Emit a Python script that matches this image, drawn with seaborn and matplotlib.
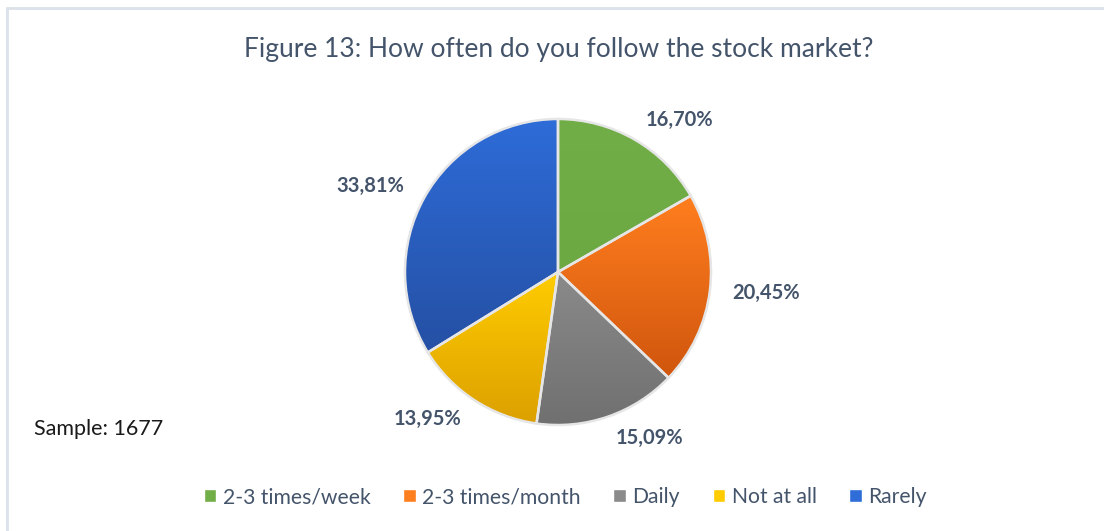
import numpy as np
import matplotlib
matplotlib.use("Agg")
import matplotlib.pyplot as plt
import seaborn as sns
from matplotlib.colors import LinearSegmentedColormap
from matplotlib.patches import Rectangle

categories = ["2-3 times/week", "2-3 times/month", "Daily", "Not at all", "Rarely"]
shares = [16.70, 20.45, 15.09, 13.95, 33.81]
sample_size = 1677

# gradient colours per slice (top, bottom)
top_colors = ["#72AE48", "#FF7E1E", "#8A8A8A", "#FFCC00", "#2E6CD8"]
bottom_colors = ["#6DA943", "#D0560E", "#707070", "#DCA000", "#2550A4"]

sns.set_theme(style="white")
plt.rcParams["font.family"] = ["Lato", "DejaVu Sans"]

fig = plt.figure(figsize=(11.04, 5.31), dpi=100)
ax = fig.add_axes([0, 0, 1, 1])

# percentage labels in the report's decimal-comma style
pct_labels = [f"{v:.2f}%".replace(".", ",") for v in shares]
cx, cy = 558, 259

wedges, texts = ax.pie(
    shares,
    labels=pct_labels,
    colors=bottom_colors,
    startangle=90,
    counterclock=False,
    center=(cx, cy),
    radius=153,
    explode=[0.02] * len(shares),
    labeldistance=1.15,
    wedgeprops=dict(edgecolor="#E6E6E6", linewidth=1.8),
    textprops=dict(fontsize=14.5, fontweight="bold", color="#44546A"),
    frame=True,
)

# pie aligns labels against x=0, so fix the side relative to the pie centre
for t in texts:
    x, y = t.get_position()
    t.set_ha("left" if x > cx else "right")
    t.set_va("center")

for w, c0, c1 in zip(wedges, top_colors, bottom_colors):
    ext = w.get_path().get_extents()
    cmap = LinearSegmentedColormap.from_list("g", [c1, c0])
    grad = np.linspace(0, 1, 256).reshape(-1, 1)
    im = ax.imshow(grad, extent=[ext.x0, ext.x1, ext.y0, ext.y1], origin="lower",
                   cmap=cmap, aspect="auto", zorder=0.5)
    im.set_clip_path(w)
    w.set_facecolor("none")
    w.set_zorder(1)

ax.set_xlim(0, 1104)
ax.set_ylim(0, 531)
ax.set_aspect("equal")
ax.axis("off")

# chart frame (only left and top edges visible in the crop)
ax.plot([7, 7, 1104], [0, 523, 523], color="#DCE1EA", linewidth=2, solid_joinstyle="miter")

ax.text(559, 481, "Figure 13: How often do you follow the stock market?",
        ha="center", va="center", fontsize=19, color="#44546A")
ax.text(34, 102, f"Sample: {sample_size}", ha="left", va="center",
        fontsize=15.5, color="#1A1A1A")

handles = [Rectangle((0, 0), 1, 1, facecolor=c) for c in top_colors]
fig.legend(handles, categories, loc="center", bbox_to_anchor=(0.512, 0.064),
           ncol=5, frameon=False, fontsize=15.2, handlelength=0.6, handleheight=0.6,
           handletextpad=0.3, columnspacing=1.55, labelcolor="#44546A")

fig.savefig("out.png", dpi=100)
